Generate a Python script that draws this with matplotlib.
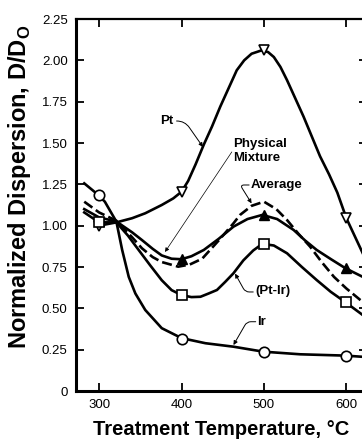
import matplotlib
matplotlib.use("Agg")
import matplotlib.pyplot as plt

plt.rcParams['font.family'] = ['Liberation Sans', 'DejaVu Sans']
plt.rcParams['mathtext.fontset'] = 'custom'
plt.rcParams['mathtext.rm'] = 'Liberation Sans'
plt.rcParams['mathtext.bf'] = 'Liberation Sans:bold'

# Kurvor (temperatur i °C, normaliserad dispersion)
pt_t = [300, 321, 340, 356, 376, 390, 400, 408, 417, 427, 437, 447, 457, 467,
        476, 485, 497, 505, 512, 520, 528, 538, 548, 558, 568, 579, 589, 600, 622]
pt_d = [1.00, 1.02, 1.045, 1.075, 1.125, 1.165, 1.205, 1.27, 1.37, 1.49, 1.60, 1.72,
        1.83, 1.94, 2.00, 2.04, 2.06, 2.05, 2.02, 1.96, 1.88, 1.77, 1.66, 1.54,
        1.42, 1.31, 1.20, 1.045, 0.81]

phys_t = [282, 300, 321, 340, 352, 365, 376, 388, 400, 412, 427, 445, 463, 480,
          498, 516, 536, 550, 564, 582, 599, 622]
phys_d = [1.10, 1.05, 1.025, 0.96, 0.913, 0.86, 0.82, 0.80, 0.797, 0.815, 0.853,
          0.92, 0.994, 1.04, 1.065, 1.04, 0.974, 0.91, 0.853, 0.795, 0.742, 0.685]

avg_t = [282, 300, 321, 340, 352, 365, 376, 396, 410, 425, 445, 463, 471, 485,
         500, 515, 528, 542, 556, 570, 585, 600, 617, 625]
avg_d = [1.145, 1.08, 1.03, 0.93, 0.863, 0.81, 0.78, 0.752, 0.765, 0.80, 0.91,
         1.014, 1.065, 1.12, 1.145, 1.10, 1.034, 0.95, 0.873, 0.78, 0.69, 0.62,
         0.55, 0.52]

ptir_t = [282, 300, 321, 335, 348, 362, 376, 388, 400, 412, 423, 433, 443, 453,
          463, 475, 487, 498, 512, 528, 546, 564, 581, 598, 617, 625]
ptir_d = [1.08, 1.02, 1.02, 0.94, 0.853, 0.76, 0.67, 0.61, 0.58, 0.568, 0.57,
          0.59, 0.611, 0.66, 0.712, 0.79, 0.85, 0.89, 0.88, 0.833, 0.75, 0.671,
          0.60, 0.54, 0.47, 0.44]

ir_t = [282, 299, 307, 321, 328, 336, 344, 356, 376, 400, 429, 463, 499, 544,
        599, 625]
ir_d = [1.256, 1.186, 1.145, 1.024, 0.853, 0.69, 0.59, 0.49, 0.38, 0.32, 0.289,
        0.268, 0.238, 0.222, 0.214, 0.205]

# Mätpunkter (markörer)
mark_t = [300, 400, 500, 600]
pt_mark = [1.00, 1.205, 2.06, 1.045]
phys_mark = [1.03, 0.797, 1.065, 0.742]
ptir_mark = [1.02, 0.58, 0.887, 0.54]
ir_mark = [1.186, 0.314, 0.238, 0.212]

yticks = [0, 0.25, 0.5, 0.75, 1.0, 1.25, 1.5, 1.75, 2.0, 2.25]
ytick_labels = ['0', '0.25', '0.50', '0.75', '1.00', '1.25', '1.50', '1.75', '2.00', '2.25']
xticks = [300, 400, 500, 600]


def plot_figur():
    fig = plt.figure(figsize=(3.62, 4.40), dpi=100)
    ax = fig.add_axes([76 / 362, 49 / 440, 291 / 362, 372 / 440])
    ax.set_xlim(272, 625)
    ax.set_ylim(0, 2.25)

    lw = 1.9
    ax.plot(pt_t, pt_d, color='black', lw=lw)
    ax.plot(phys_t, phys_d, color='black', lw=lw)
    ax.plot(avg_t, avg_d, color='black', lw=lw, dashes=(3.8, 1.6))
    ax.plot(ptir_t, ptir_d, color='black', lw=lw)
    ax.plot(ir_t, ir_d, color='black', lw=lw)

    ax.plot(mark_t, pt_mark, 'v', ms=7, mfc='white', mec='black', mew=1.2, ls='none')
    ax.plot(mark_t, phys_mark, '^', ms=6.5, mfc='black', mec='black', ls='none')
    ax.plot(mark_t, ptir_mark, 's', ms=7, mfc='white', mec='black', mew=1.2, ls='none')
    ax.plot(mark_t, ir_mark, 'o', ms=7.5, mfc='white', mec='black', mew=1.2, ls='none')

    # Etiketter med ledarlinjer
    fs = 9.5
    arrow = dict(arrowstyle='-|>', color='black', lw=0.7, mutation_scale=6,
                 shrinkA=0, shrinkB=0)
    ax.text(382, 1.635, 'Pt', fontsize=fs, fontweight='bold', ha='center', va='center')
    ax.annotate('', xy=(426, 1.476), xytext=(394, 1.633),
                arrowprops=dict(arrow, connectionstyle='angle,angleA=0,angleB=125,rad=8'))

    ax.text(463, 1.452, 'Physical\nMixture', fontsize=fs, fontweight='bold',
            ha='left', va='center', linespacing=1.3)
    ax.annotate('', xy=(380, 0.841), xytext=(461, 1.446),
                arrowprops=dict(arrow, lw=0.5))

    ax.text(484, 1.246, 'Average', fontsize=fs, fontweight='bold', ha='left', va='center')
    ax.annotate('', xy=(485, 1.135), xytext=(482, 1.246),
                arrowprops=dict(arrow, connectionstyle='angle,angleA=0,angleB=122,rad=4'))

    ax.text(489, 0.602, '(Pt-Ir)', fontsize=fs, fontweight='bold', ha='left', va='center')
    ax.annotate('', xy=(465, 0.71), xytext=(487, 0.599),
                arrowprops=dict(arrow, connectionstyle='angle,angleA=0,angleB=-61,rad=4'))

    ax.text(492, 0.419, 'Ir', fontsize=fs, fontweight='bold', ha='left', va='center')
    ax.annotate('', xy=(463, 0.278), xytext=(490, 0.419),
                arrowprops=dict(arrow, connectionstyle='angle,angleA=0,angleB=60,rad=4'))

    ax.set_xticks(xticks)
    ax.set_yticks(yticks)
    ax.set_yticklabels(ytick_labels)
    ax.tick_params(direction='in', length=6, width=1.3, top=True, right=True,
                   labelsize=9.5, pad=6)
    for side in ['left', 'bottom']:
        ax.spines[side].set_linewidth(2.2)
    for side in ['top', 'right']:
        ax.spines[side].set_linewidth(1.6)

    ax.set_xlabel('Treatment Temperature, °C', fontsize=14.5, fontweight='bold',
                  labelpad=6)
    fig.text(20 / 362, 1 - 187 / 440, r'Normalized Dispersion, D/D$_\mathbf{O}$',
             rotation=90, fontsize=17, fontweight='bold', ha='center', va='center')

    fig.savefig('out.png', dpi=100)


def main():
    plot_figur()


if __name__ == "__main__":
    main()
